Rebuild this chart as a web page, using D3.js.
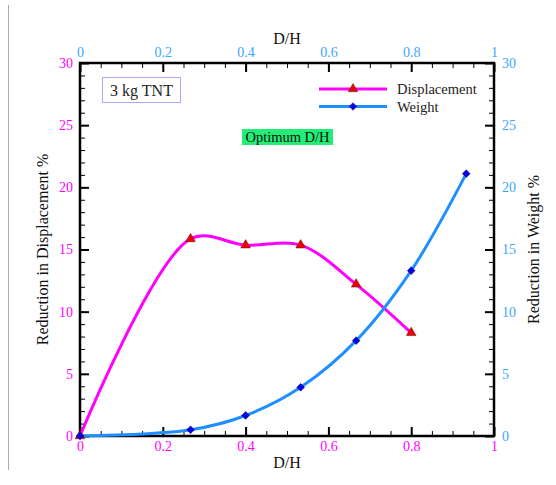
<!DOCTYPE html>
<html>
<head>
<meta charset="utf-8">
<script src="https://cdn.jsdelivr.net/npm/d3@7"></script>
<style>
  html, body { margin: 0; padding: 0; background: #fff; }
  svg { display: block; }
  svg text { font-family: "Liberation Serif", "Times New Roman", Times, "DejaVu Serif", serif !important; }
</style>
</head>
<body>
<svg id="chart" width="556" height="485"></svg>
<script>
// D/H ratios sampled and the resulting reductions (%)
const dispDH     = [0, 0.267, 0.4, 0.533, 0.667, 0.8];
const dispValues = [0, 15.85, 15.35, 15.35, 12.2, 8.3];
const weightDH     = [0, 0.267, 0.4, 0.533, 0.667, 0.8, 0.933];
const weightValues = [0, 0.5, 1.65, 3.92, 7.67, 13.3, 21.1];

const xTicks = [0, 0.2, 0.4, 0.6, 0.8, 1];
const yTicks = [0, 5, 10, 15, 20, 25, 30];
const seriesNames = ["Displacement", "Weight"];

const MAGENTA = "#ff00ff";
const LIGHTBLUE = "#1e8fff";
const LABELBLUE = "#3aa6ff";
const SERIF = "Liberation Serif, Times New Roman, Times, serif";

const svg = d3.select("#chart");
const L = 80, R = 494, T = 63, B = 436;

const x = d3.scaleLinear().domain([0, 1]).range([L, R]);
const yL = d3.scaleLinear().domain([0, 30]).range([B, T]);
const yR = d3.scaleLinear().domain([0, 30]).range([B, T]);

// page rule on the left edge
svg.append("line").attr("x1", 8.5).attr("x2", 8.5).attr("y1", 5).attr("y2", 470)
  .attr("stroke", "#aaa").attr("stroke-width", 1);

function fmt(d) { return d === 0 ? "0" : d === 1 ? "1" : d3.format("")(d); }

function styleAxis(g, color) {
  g.attr("font-family", SERIF);
  g.select(".domain").remove();
  g.selectAll(".tick line").attr("stroke", "#000").attr("stroke-width", 2);
  g.selectAll(".tick text").attr("fill", color).attr("font-size", 14);
}
function minor(g) {
  g.select(".domain").remove();
  g.selectAll(".tick line").attr("stroke", "#000").attr("stroke-width", 1);
  g.selectAll(".tick text").remove();
}
const minorX = d3.range(0, 1.0001, 0.05);
const minorY = d3.range(0, 30.001, 1);

// bottom
svg.append("g").attr("transform", `translate(0,${B})`)
  .call(d3.axisBottom(x).tickValues(minorX).tickSize(-5)).call(minor);
svg.append("g").attr("transform", `translate(0,${B})`)
  .call(d3.axisBottom(x).tickValues(xTicks).tickFormat(fmt).tickSize(-9).tickPadding(5))
  .call(g => styleAxis(g, MAGENTA));
// top
svg.append("g").attr("transform", `translate(0,${T})`)
  .call(d3.axisTop(x).tickValues(minorX).tickSize(-5)).call(minor);
svg.append("g").attr("transform", `translate(0,${T})`)
  .call(d3.axisTop(x).tickValues(xTicks).tickFormat(fmt).tickSize(-9).tickPadding(6))
  .call(g => styleAxis(g, LABELBLUE));
// left
svg.append("g").attr("transform", `translate(${L},0)`)
  .call(d3.axisLeft(yL).tickValues(minorY).tickSize(-5)).call(minor);
svg.append("g").attr("transform", `translate(${L},0)`)
  .call(d3.axisLeft(yL).tickValues(yTicks).tickSize(-9).tickPadding(7))
  .call(g => styleAxis(g, MAGENTA));
// right
svg.append("g").attr("transform", `translate(${R},0)`)
  .call(d3.axisRight(yR).tickValues(minorY).tickSize(-5)).call(minor);
svg.append("g").attr("transform", `translate(${R},0)`)
  .call(d3.axisRight(yR).tickValues(yTicks).tickSize(-9).tickPadding(8))
  .call(g => styleAxis(g, LABELBLUE));

// frame
svg.append("rect").attr("x", L).attr("y", T).attr("width", R - L).attr("height", B - T)
  .attr("fill", "none").attr("stroke", "#000").attr("stroke-width", 2.5);

// axis titles
const titles = svg.append("g").attr("font-family", SERIF).attr("font-size", 16).attr("fill", "#111");
titles.append("text").attr("x", 287).attr("y", 44).attr("text-anchor", "middle").text("D/H");
titles.append("text").attr("x", 287).attr("y", 468).attr("text-anchor", "middle").text("D/H");
titles.append("text").attr("transform", `translate(48,${(T + B) / 2}) rotate(-90)`)
  .attr("text-anchor", "middle").text("Reduction in Displacement %");
titles.append("text").attr("transform", `translate(539,${(T + B) / 2}) rotate(-90)`)
  .attr("text-anchor", "middle").text("Reduction in Weight %");

// curves
const dispPts = dispDH.map((d, i) => [d, dispValues[i]]);
const weightPts = weightDH.map((d, i) => [d, weightValues[i]]);

const lineL = d3.line().x(d => x(d[0])).y(d => yL(d[1])).curve(d3.curveCatmullRom.alpha(0.5));
const lineR = d3.line().x(d => x(d[0])).y(d => yR(d[1])).curve(d3.curveCatmullRom.alpha(0.5));

svg.append("path").datum(dispPts).attr("d", lineL)
  .attr("fill", "none").attr("stroke", MAGENTA).attr("stroke-width", 3);
svg.append("path").datum(weightPts).attr("d", lineR)
  .attr("fill", "none").attr("stroke", LIGHTBLUE).attr("stroke-width", 3);

const tri = d3.symbol().type(d3.symbolTriangle).size(40);
const sq = d3.symbol().type(d3.symbolSquare).size(30);

// displacement triangles first, weight diamonds on top
svg.append("g").selectAll("path").data(dispPts).join("path")
  .attr("transform", d => `translate(${x(d[0])},${yL(d[1])})`)
  .attr("d", tri).attr("fill", "#ee0000").attr("stroke", "#660000").attr("stroke-width", 0.5);
svg.append("g").selectAll("path").data(weightPts).join("path")
  .attr("transform", d => `translate(${x(d[0])},${yR(d[1])}) rotate(45)`)
  .attr("d", sq).attr("fill", "#0000ee").attr("stroke", "#000066").attr("stroke-width", 0.5);

// legend
const legend = svg.append("g").attr("font-family", SERIF);
[[seriesNames[0], MAGENTA, tri, "#ee0000", 89, 0], [seriesNames[1], LIGHTBLUE, sq, "#0000ee", 106.5, 45]]
  .forEach(([name, col, sym, fill, ly, rot]) => {
    legend.append("line").attr("x1", 319).attr("x2", 387).attr("y1", ly).attr("y2", ly)
      .attr("stroke", col).attr("stroke-width", 3);
    legend.append("path").attr("transform", `translate(353,${ly}) rotate(${rot})`).attr("d", sym)
      .attr("fill", fill).attr("stroke", "#333").attr("stroke-width", 0.5);
    legend.append("text").attr("x", 397).attr("y", ly + 5).attr("font-size", 14.5).attr("fill", "#222").text(name);
  });

// annotations
const notes = svg.append("g").attr("font-family", SERIF);
notes.append("rect").attr("x", 102.5).attr("y", 77.5).attr("width", 78).attr("height", 25)
  .attr("fill", "#fff").attr("stroke", "#aaaaff").attr("stroke-width", 1);
notes.append("text").attr("x", 141.5).attr("y", 95.5).attr("text-anchor", "middle")
  .attr("font-size", 16).attr("fill", "#222").text("3 kg TNT");

notes.append("rect").attr("x", 242).attr("y", 129).attr("width", 91).attr("height", 16)
  .attr("fill", "#22ee77");
notes.append("text").attr("x", 287.5).attr("y", 142).attr("text-anchor", "middle")
  .attr("font-size", 14.5).attr("fill", "#111").text("Optimum D/H");
</script>
</body>
</html>
